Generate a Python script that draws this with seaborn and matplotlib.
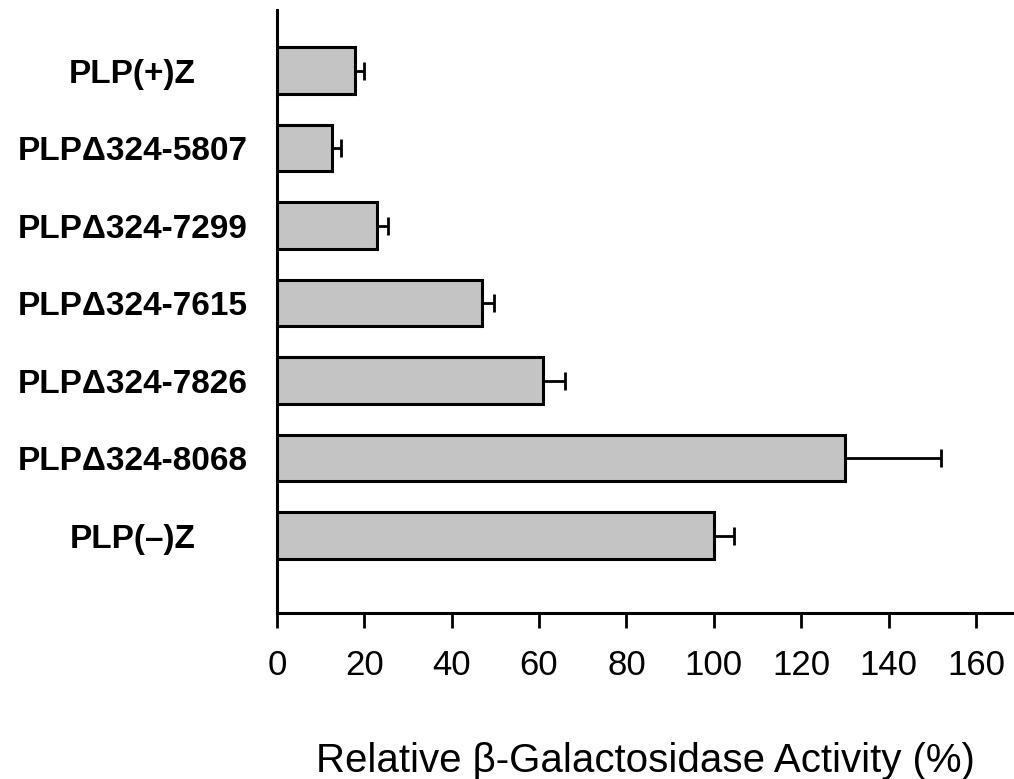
"""Relative beta-galactosidase activity of PLP deletion constructs (horizontal bars)."""
import matplotlib
matplotlib.use("Agg")
import matplotlib.pyplot as plt
import numpy as np
import pandas as pd
import seaborn as sns

constructs = ["PLP(+)Z", "PLPΔ324-5807", "PLPΔ324-7299", "PLPΔ324-7615",
              "PLPΔ324-7826", "PLPΔ324-8068", "PLP(–)Z"]
activity = [18, 12.7, 23, 47, 61, 130, 100]
sem = [2.0, 2.0, 2.5, 2.8, 5.0, 22.0, 4.7]
xticks = [0, 20, 40, 60, 80, 100, 120, 140, 160]

sns.set_theme(style="white")
plt.rcParams["font.family"] = ["Liberation Sans", "DejaVu Sans"]
plt.rcParams["text.color"] = "black"
plt.rcParams["axes.labelcolor"] = "black"
plt.rcParams["xtick.color"] = "black"
plt.rcParams["ytick.color"] = "black"

df = pd.DataFrame({"construct": constructs, "activity": activity})

fig = plt.figure(figsize=(10.14, 7.79), dpi=100)
ax = fig.add_axes([0.273, 0.213, 0.727, 0.774])

sns.barplot(data=df, y="construct", x="activity", orient="h", color="#c4c4c4",
            saturation=1, width=0.6, edgecolor="black", linewidth=2.2, ax=ax)
# one-sided (upper) error bars
ax.errorbar(df["activity"], np.arange(len(df)), xerr=[np.zeros(len(df)), sem],
            fmt="none", ecolor="black", elinewidth=2.0, capsize=6.5, capthick=2.0)

ax.set_xlim(0, 168.7)
ax.set_ylim(7, -0.78)
ax.set_xticks(xticks)
ax.set_xticklabels([str(t) for t in xticks], fontsize=25)
ax.set_yticks(range(len(constructs)))
ax.set_yticklabels(constructs, fontsize=24, fontweight="bold", ha="center")
ax.tick_params(axis="y", length=0, pad=104)
ax.tick_params(axis="x", direction="out", length=11, width=2.0, pad=15,
               bottom=True)

for side in ["top", "right"]:
    ax.spines[side].set_visible(False)
for side in ["left", "bottom"]:
    ax.spines[side].set_color("black")
    ax.spines[side].set_linewidth(2.2)

ax.set_ylabel("")
ax.set_xlabel("Relative β-Galactosidase Activity (%)", fontsize=29, labelpad=43)

fig.savefig("out.png", dpi=100)
